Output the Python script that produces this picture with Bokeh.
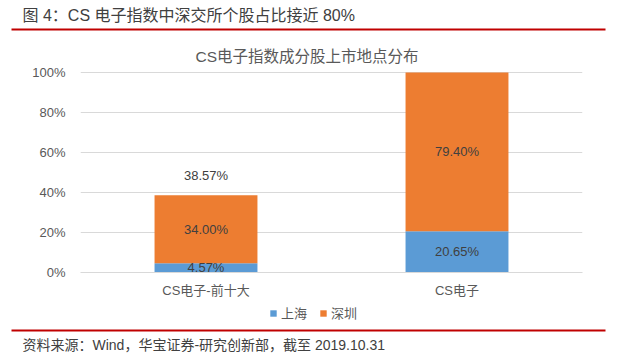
from bokeh.plotting import figure
from bokeh.layouts import column
from bokeh.models import (FactorRange, Range1d, ColumnDataSource, PrintfTickFormatter,
                          FixedTicker, Label, Legend, LegendItem, Title)
from bokeh.core.properties import value
from bokeh.embed import file_html
from bokeh.resources import INLINE

# ---- data ----
categories = ["CS电子-前十大", "CS电子"]
shanghai = [4.57, 20.65]
shenzhen = [34.00, 79.40]
show_total = [True, False]
y_ticks = [0, 20, 40, 60, 80, 100]
series_names = ["上海", "深圳"]
header_text = "图 4：CS 电子指数中深交所个股占比接近 80%"
chart_title = "CS电子指数成分股上市地点分布"
footer_text = "资料来源：Wind，华宝证券-研究创新部，截至 2019.10.31"

BLUE = "#5B9BD5"
ORANGE = "#ED7D31"
RED = "#C00000"
FONT = "'Liberation Sans', Arial, 'Noto Sans CJK SC'"
W = 631


def deco_fig(h):
    f = figure(width=W, height=h, x_range=Range1d(0, W), y_range=Range1d(h, 0),
               output_backend="svg", toolbar_location=None,
               x_axis_type=None, y_axis_type=None, frame_align=False,
               min_border=0, min_border_left=0, min_border_right=0,
               min_border_top=0, min_border_bottom=0)
    f.outline_line_color = None
    f.grid.visible = False
    f.background_fill_color = "white"
    f.border_fill_color = "white"
    return f


# ---- header ----
HH = 36
header = deco_fig(HH)
header.add_layout(Label(x=22, y=15, text=header_text, text_baseline="middle",
                        text_font_size="16px", text_color="#404040", text_font=FONT))
header.quad(left=11, right=605, top=28, bottom=30, fill_color=RED, line_color=None)

# ---- main chart ----
sz_top = [a + b for a, b in zip(shanghai, shenzhen)]
src = ColumnDataSource(dict(
    cat=categories,
    sh=shanghai,
    sz_top=sz_top,
    sh_mid=[a / 2 for a in shanghai],
    sz_mid=[a + b / 2 for a, b in zip(shanghai, shenzhen)],
    sh_lbl=[f"{v:.2f}%" for v in shanghai],
    sz_lbl=[f"{v:.2f}%" for v in shenzhen],
    tot_lbl=[f"{t:.2f}%" if s else "" for t, s in zip(sz_top, show_total)],
))

TOP = 71 - HH
MH = TOP + 201 + 35
p = figure(x_range=FactorRange(factors=categories), y_range=Range1d(0, 100.5),
           width=W, height=MH, output_backend="svg", toolbar_location=None,
           frame_align=False,
           min_border_left=80, min_border_right=49, min_border_top=TOP, min_border_bottom=35)
p.title = Title(text=chart_title, align="left", offset=115, vertical_align="middle",
                text_baseline="middle", standoff=12, text_font_size="15.5px",
                text_font_style="normal", text_color="#595959", text_font=FONT)
p.outline_line_color = None
p.background_fill_color = "white"
p.border_fill_color = "white"

r1 = p.vbar(x="cat", bottom=0, top="sh", width=0.41, source=src,
            fill_color=BLUE, line_color=None)
r2 = p.vbar(x="cat", bottom="sh", top="sz_top", width=0.41, source=src,
            fill_color=ORANGE, line_color=None)

lbl_kw = dict(text_align="center", text_baseline="middle", text_font_size="13px",
              text_color="#404040", text_font=value(FONT), source=src)
p.text(x="cat", y="sh_mid", text="sh_lbl", **lbl_kw)
p.text(x="cat", y="sz_mid", text="sz_lbl", **lbl_kw)
p.text(x="cat", y="sz_top", text="tot_lbl", y_offset=-20, **lbl_kw)

p.yaxis.ticker = FixedTicker(ticks=y_ticks)
p.yaxis.formatter = PrintfTickFormatter(format="%d%%")
p.yaxis.axis_line_color = None
p.yaxis.major_tick_line_color = None
p.yaxis.major_tick_out = 0
p.yaxis.minor_tick_line_color = None
p.yaxis.minor_tick_out = 0
p.yaxis.major_label_standoff = 15
p.yaxis.major_label_text_font_size = "13px"
p.yaxis.major_label_text_color = "#595959"
p.yaxis.major_label_text_font = FONT

p.xaxis.axis_line_color = "#D9D9D9"
p.xaxis.major_tick_line_color = None
p.xaxis.major_tick_out = 0
p.xaxis.minor_tick_line_color = None
p.xaxis.minor_tick_out = 0
p.xaxis.major_label_standoff = 10
p.xaxis.major_label_text_font_size = "13px"
p.xaxis.major_label_text_color = "#595959"
p.xaxis.major_label_text_font = FONT

p.xgrid.grid_line_color = None
p.ygrid.grid_line_color = "#D9D9D9"
p.ygrid.ticker = FixedTicker(ticks=y_ticks)

# ---- footer with legend ----
FY = HH + MH          # page y where the footer starts
FH = 363 - FY
footer = deco_fig(FH)
# legend proxies (kept off-screen; they only carry the series colours for the legend)
proxy = ColumnDataSource(dict(x=[-100], top=[0]))
k1 = footer.vbar(x="x", top="top", width=1, source=proxy, fill_color=BLUE, line_color=None)
k2 = footer.vbar(x="x", top="top", width=1, source=proxy, fill_color=ORANGE, line_color=None)
legend = Legend(items=[LegendItem(label=series_names[0], renderers=[k1]),
                       LegendItem(label=series_names[1], renderers=[k2])],
                orientation="horizontal", location=(269, FH - (322 - FY)),
                padding=0, margin=0, spacing=12, label_standoff=4,
                glyph_width=8, glyph_height=8, label_height=14,
                label_text_font_size="13px", label_text_color="#595959",
                label_text_font=FONT, border_line_color=None, background_fill_alpha=0)
footer.add_layout(legend)
footer.quad(left=11, right=605, top=329 - FY, bottom=331 - FY, fill_color=RED, line_color=None)
footer.add_layout(Label(x=22, y=344 - FY, text=footer_text, text_baseline="middle",
                        text_font_size="14px", text_color="#404040", text_font=FONT))

layout = column(header, p, footer, spacing=0)
open("out.html", "w").write(file_html(layout, INLINE))
